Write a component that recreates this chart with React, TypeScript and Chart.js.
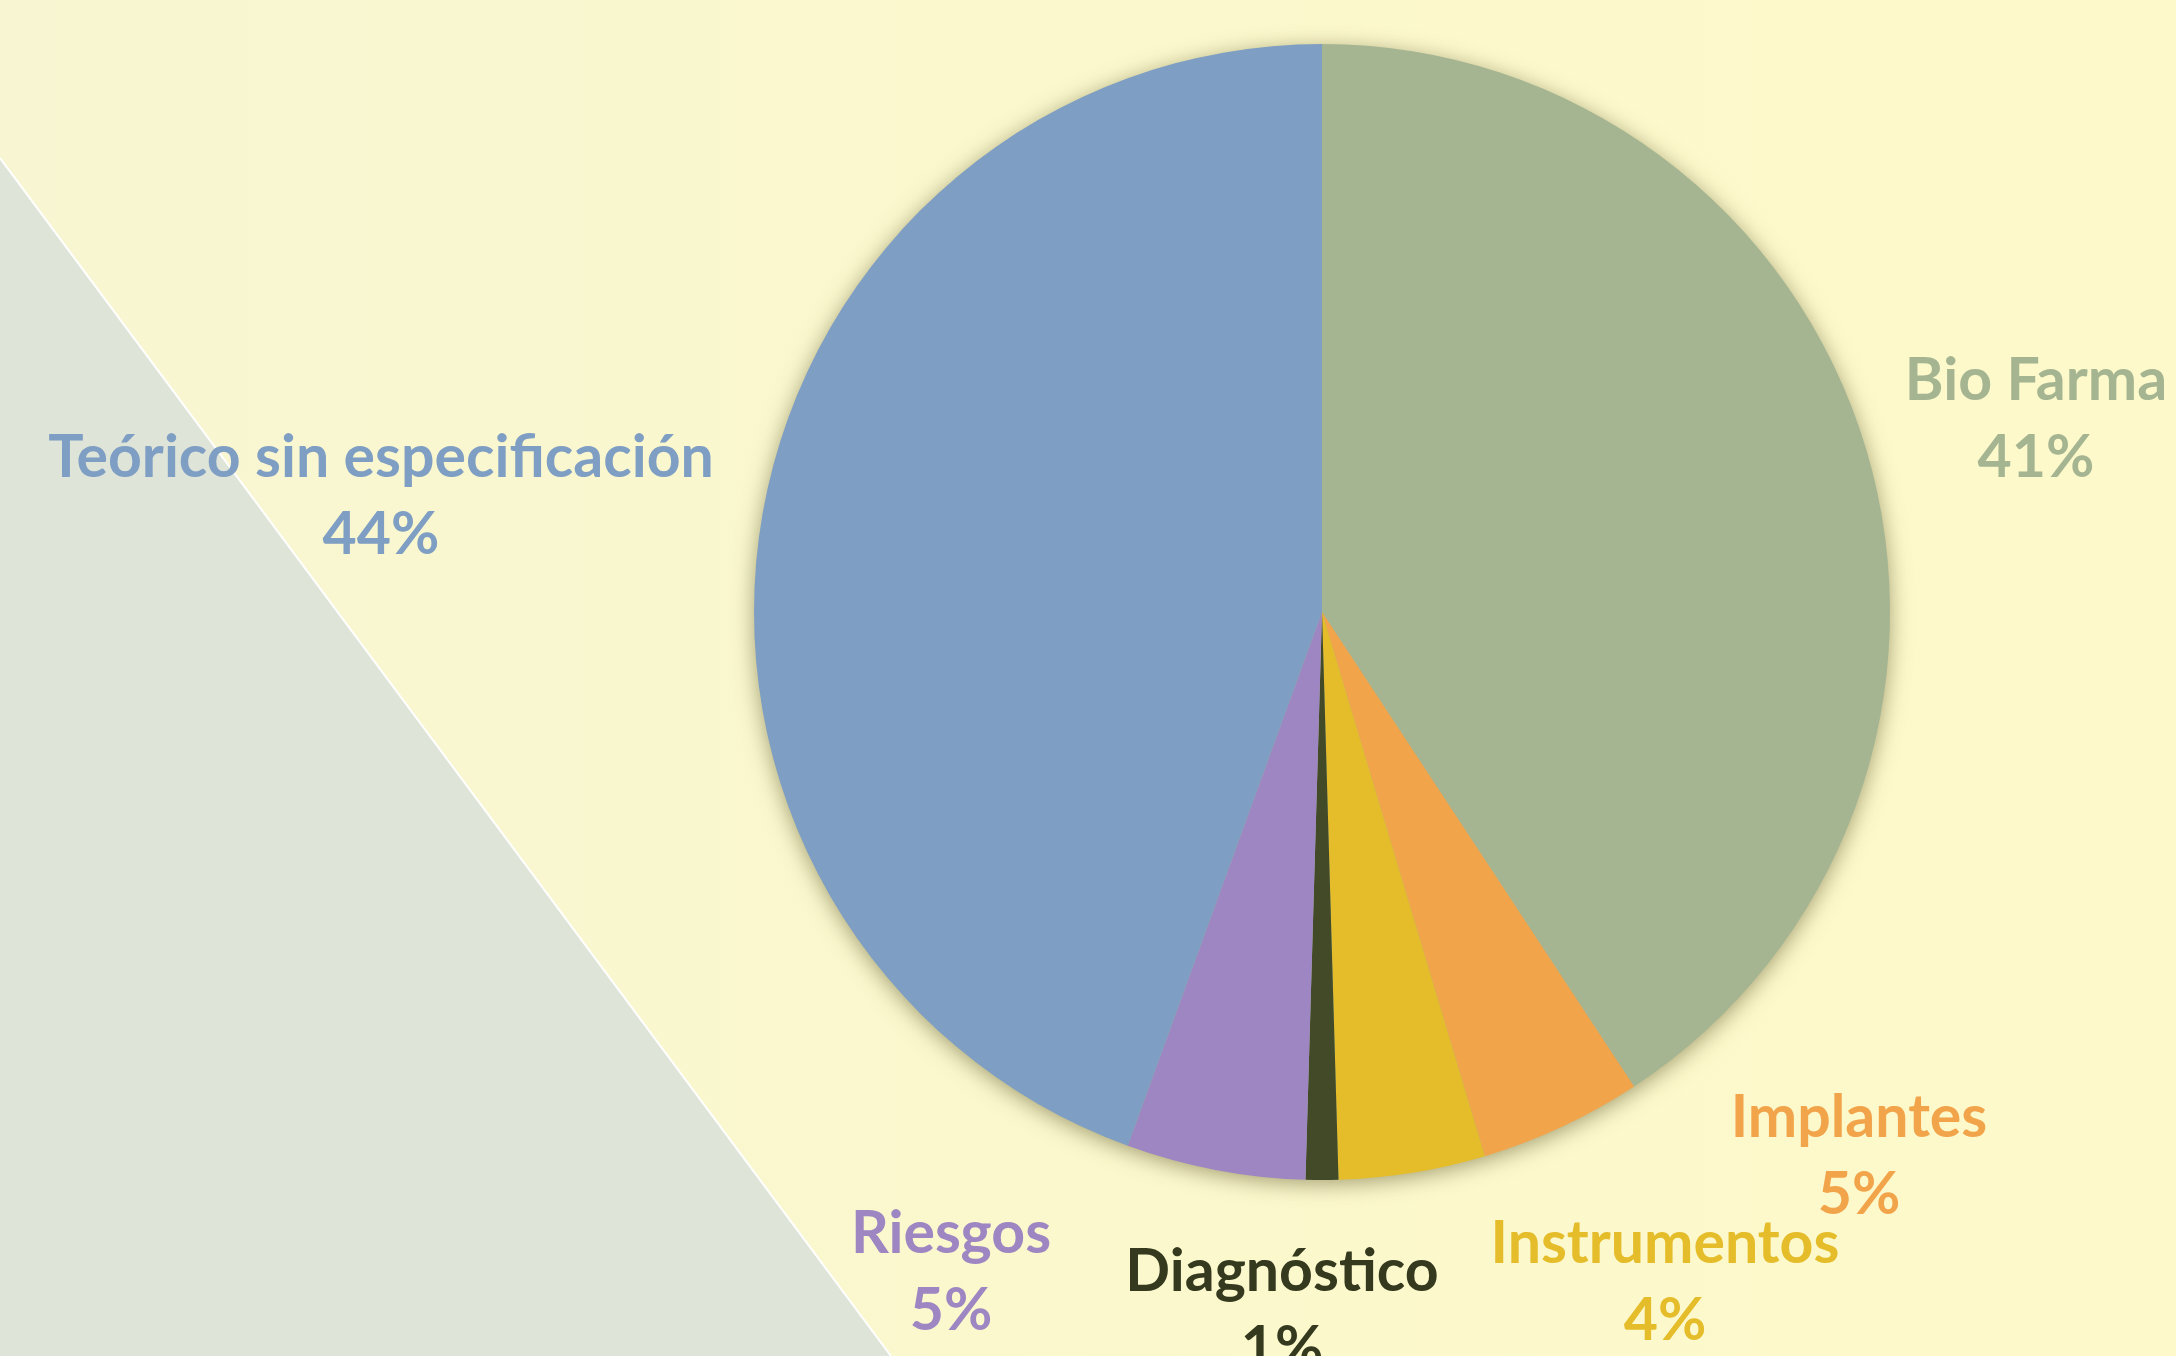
import React, { useEffect, useRef } from "react";
import { Chart, registerables } from "chart.js";

Chart.register(...registerables);

const CATEGORIES = [
  "Bio Farma",
  "Implantes",
  "Instrumentos",
  "Diagnóstico",
  "Riesgos",
  "Teórico sin especificación",
];
const COUNTS = [88, 10, 9, 2, 11, 96];
const SLICE_COLORS = ["#A5B592", "#F2A44A", "#E5BC2A", "#434A28", "#9E86C2", "#7F9EC3"];
const LABEL_COLORS = ["#A5B592", "#F2A44A", "#E5BC2A", "#353A1F", "#9E86C2", "#7F9EC3"];
// label anchor offsets from the pie centre (text centre x, first baseline y)
const LABEL_OFFSETS: [number, number][] = [
  [714, -212],
  [537, 525],
  [343, 651],
  [-40, 679],
  [-371, 641],
  [-941, -135],
];

const W = 2176;
const H = 1356;
const FONT = "bold 59px Lato, 'Open Sans', sans-serif";
const LINE_GAP = 77;

const backgroundPlugin = {
  id: "bg",
  beforeDraw(chart: any) {
    const ctx = chart.ctx;
    ctx.save();
    const g = ctx.createLinearGradient(0, 0, W, 0);
    g.addColorStop(0, "#F8F6D2");
    g.addColorStop(0.5, "#FBF8CD");
    g.addColorStop(1, "#FDF9CA");
    ctx.fillStyle = g;
    ctx.fillRect(0, 0, W, H);
    ctx.beginPath();
    ctx.moveTo(0, 158);
    ctx.lineTo(891, H);
    ctx.lineTo(0, H);
    ctx.closePath();
    ctx.fillStyle = "#DFE4D8";
    ctx.fill();
    ctx.beginPath();
    ctx.moveTo(0, 158);
    ctx.lineTo(891, H);
    ctx.strokeStyle = "#FFFFFF";
    ctx.lineWidth = 2;
    ctx.stroke();
    ctx.restore();
  },
};

const shadowPlugin = {
  id: "pieShadow",
  beforeDatasetsDraw(chart: any) {
    const meta = chart.getDatasetMeta(0);
    const arc = meta.data[0];
    if (!arc) return;
    const ctx = chart.ctx;
    ctx.save();
    ctx.shadowColor = "rgba(80,75,30,0.55)";
    ctx.shadowBlur = 22;
    ctx.shadowOffsetY = 4;
    ctx.beginPath();
    ctx.arc(arc.x, arc.y, arc.outerRadius - 1, 0, Math.PI * 2);
    ctx.fillStyle = "#A5B592";
    ctx.fill();
    ctx.restore();
  },
};

const labelPlugin = {
  id: "sliceLabels",
  afterDatasetsDraw(chart: any) {
    const meta = chart.getDatasetMeta(0);
    const arc = meta.data[0];
    if (!arc) return;
    const data = chart.data.datasets[0].data as number[];
    const total = data.reduce((a, b) => a + b, 0);
    const ctx = chart.ctx;
    ctx.save();
    ctx.font = FONT;
    ctx.textAlign = "center";
    ctx.textBaseline = "alphabetic";
    data.forEach((v, i) => {
      const [dx, dy] = LABEL_OFFSETS[i];
      const x = arc.x + dx;
      const y = arc.y + dy;
      ctx.fillStyle = LABEL_COLORS[i];
      ctx.fillText(String(chart.data.labels[i]), x, y);
      ctx.fillText(Math.round((v / total) * 100) + "%", x, y + LINE_GAP);
    });
    ctx.restore();
  },
};

export default function App() {
  const ref = useRef<HTMLCanvasElement | null>(null);

  useEffect(() => {
    if (!ref.current) return;
    const chart = new Chart(ref.current, {
      type: "pie",
      data: {
        labels: CATEGORIES,
        datasets: [
          {
            data: COUNTS,
            backgroundColor: SLICE_COLORS,
            borderWidth: 0,
          },
        ],
      },
      options: {
        responsive: false,
        animation: false,
        devicePixelRatio: 1,
        layout: {
          padding: { left: 754, right: 286, top: 44, bottom: 176 },
        },
        plugins: {
          legend: { display: false },
          tooltip: { enabled: false },
        },
      },
      plugins: [backgroundPlugin, shadowPlugin, labelPlugin],
    });
    let alive = true;
    if ((document as any).fonts && (document as any).fonts.load) {
      (document as any).fonts.load(FONT).then(() => {
        if (alive) chart.update();
      });
    }
    return () => {
      alive = false;
      chart.destroy();
    };
  }, []);

  return (
    <div style={{ position: "fixed", left: 0, top: 0, width: W, height: H }}>
      <canvas ref={ref} width={W} height={H} style={{ display: "block", width: W, height: H }} />
    </div>
  );
}
